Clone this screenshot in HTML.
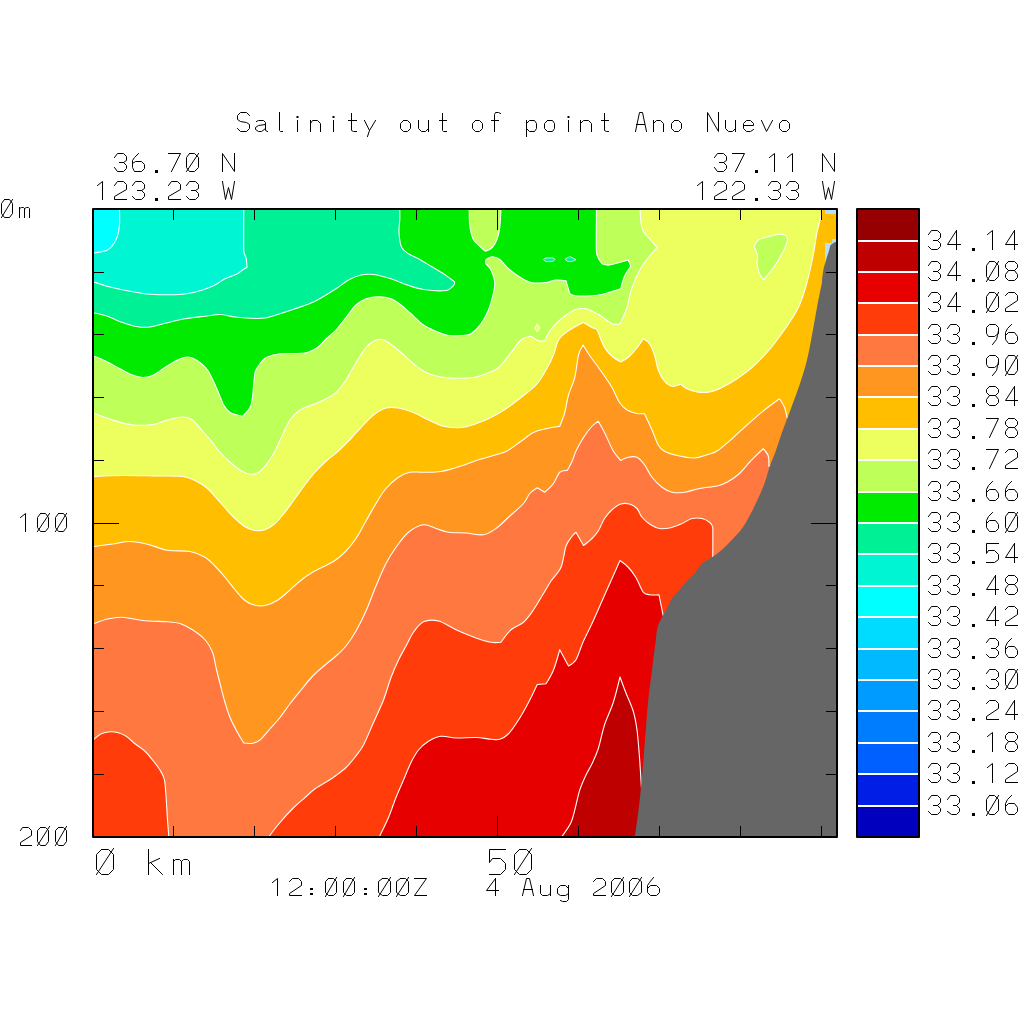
<!DOCTYPE html>
<html><head><meta charset="utf-8"><title>Salinity out of point Ano Nuevo</title>
<style>html,body{margin:0;padding:0;background:#fff;font-family:"Liberation Sans",sans-serif}svg{display:block}</style></head>
<body><svg width="1024" height="1024" viewBox="0 0 1024 1024">
<rect width="1024" height="1024" fill="#fff"/>
<defs><clipPath id="pc"><rect x="93" y="209" width="744" height="628"/></clipPath></defs><g clip-path="url(#pc)">
<rect x="92" y="208" width="746" height="630" fill="#00ffff"/>
<path d="M119.50 208.00 C119.50 208.00 119.50 208.60 119.50 209.00 C119.50 209.40 119.83 220.54 119.50 225.00 C119.17 229.46 118.46 232.88 117.50 236.00 C116.54 239.12 115.42 241.42 113.75 243.75 C112.08 246.08 110.70 248.50 107.50 250.00 C104.30 251.50 94.79 252.85 94.00 253.00 C93.21 253.15 92.00 253.00 92.00 253.00 L92.00 838.00 L838.00 838.00 L838.00 208.00 L119.50 208.00Z" fill="#00f5d2" stroke="#fff" stroke-width="1.1" stroke-linejoin="round"/>
<path d="M243.75 208.00 C243.75 208.00 243.75 208.60 243.75 209.00 C243.75 209.40 243.59 247.75 243.75 251.00 C243.91 254.25 245.71 256.00 246.25 258.75 C246.79 261.50 247.00 267.50 247.00 267.50 C247.00 267.50 244.08 268.96 242.50 270.00 C240.92 271.04 239.74 272.63 237.50 273.75 C235.26 274.87 228.75 276.88 225.00 278.75 C221.25 280.62 218.75 283.12 215.00 285.00 C211.25 286.88 207.68 288.53 202.50 290.00 C197.32 291.47 190.65 293.59 182.50 294.25 C174.35 294.91 158.08 294.71 150.00 294.25 C141.92 293.79 136.67 292.46 130.00 291.25 C123.33 290.04 116.00 288.54 110.00 287.00 C104.00 285.46 94.77 282.21 94.00 282.00 C93.23 281.79 92.00 282.00 92.00 282.00 L92.00 838.00 L838.00 838.00 L838.00 208.00 L243.75 208.00Z" fill="#00f096" stroke="#fff" stroke-width="1.1" stroke-linejoin="round"/>
<path d="M92.00 313.00 C92.00 313.00 93.22 312.84 94.00 313.00 C94.78 313.16 102.75 314.67 107.50 316.25 C112.25 317.83 117.50 320.75 122.50 322.50 C127.50 324.25 132.92 326.00 137.50 326.75 C142.08 327.50 145.42 327.58 150.00 327.00 C154.58 326.42 159.17 324.62 165.00 323.25 C170.83 321.88 178.33 319.92 185.00 318.75 C191.67 317.58 199.17 316.96 205.00 316.25 C210.83 315.54 215.00 314.38 220.00 314.50 C225.00 314.62 230.00 316.38 235.00 317.00 C240.00 317.62 245.00 318.08 250.00 318.25 C255.00 318.42 260.00 318.75 265.00 318.00 C270.00 317.25 275.00 315.29 280.00 313.75 C285.00 312.21 289.17 310.83 295.00 308.75 C300.83 306.67 308.17 304.58 315.00 301.25 C321.83 297.92 330.85 292.02 336.00 288.75 C341.15 285.48 344.33 282.29 348.50 280.00 C352.67 277.71 356.83 275.92 361.00 275.00 C365.17 274.08 368.53 273.88 373.50 274.50 C378.47 275.12 385.58 277.08 391.00 278.75 C396.42 280.42 400.58 282.71 406.00 284.50 C411.42 286.29 416.83 288.50 423.50 289.50 C430.17 290.50 442.43 290.98 446.00 290.50 C449.57 290.02 452.43 286.54 453.50 285.50 C454.57 284.46 454.75 282.00 454.75 282.00 C454.75 282.00 447.46 276.38 443.50 273.75 C439.54 271.12 435.17 268.75 431.00 266.25 C426.83 263.75 422.25 260.83 418.50 258.75 C414.75 256.67 411.33 255.71 408.50 253.75 C405.67 251.79 403.08 250.54 401.50 247.00 C399.92 243.46 399.29 237.00 399.00 232.50 C398.71 228.00 399.62 223.92 399.75 220.00 C399.88 216.08 399.75 209.40 399.75 209.00 C399.75 208.60 399.75 208.00 399.75 208.00 L838.00 208.00 L838.00 838.00 L92.00 838.00 L92.00 313.00Z" fill="#00eb00" stroke="#fff" stroke-width="1.1" stroke-linejoin="round"/>
<path d="M543.50 259.60 C543.50 259.60 544.83 258.20 546.00 258.00 C547.17 257.80 552.04 257.85 553.00 258.00 C553.96 258.15 555.00 259.40 555.00 259.40 C555.00 259.40 553.75 261.12 552.50 261.40 C551.25 261.68 547.21 261.64 546.00 261.40 C544.79 261.16 543.50 259.60 543.50 259.60Z" fill="#00f096" stroke="#fff" stroke-width="0.8" stroke-linejoin="round"/>
<path d="M565.00 259.20 C565.00 259.20 568.48 257.03 569.50 256.80 C570.52 256.57 571.04 257.18 572.00 257.60 C572.96 258.02 576.00 259.60 576.00 259.60 C576.00 259.60 573.33 261.10 572.00 261.40 C570.67 261.70 569.17 261.77 568.00 261.40 C566.83 261.03 565.00 259.20 565.00 259.20Z" fill="#00f096" stroke="#fff" stroke-width="0.8" stroke-linejoin="round"/>
<path d="M92.00 356.25 C92.00 356.25 93.24 355.99 94.00 356.25 C94.76 356.51 100.72 358.69 105.00 360.75 C109.28 362.81 115.42 366.38 120.00 368.75 C124.58 371.12 128.75 373.54 132.50 375.00 C136.25 376.46 139.17 377.42 142.50 377.50 C145.83 377.58 148.77 377.16 152.50 375.50 C156.23 373.84 160.83 370.08 165.00 367.50 C169.17 364.92 173.75 361.75 177.50 360.00 C181.25 358.25 184.38 357.00 187.50 357.00 C190.62 357.00 193.15 357.98 196.25 360.00 C199.35 362.02 204.17 365.42 207.50 370.00 C210.83 374.58 213.54 381.67 216.25 387.50 C218.96 393.33 221.87 401.58 223.75 405.00 C225.63 408.42 226.88 410.62 230.00 412.50 C233.12 414.38 242.50 416.25 242.50 416.25 C242.50 416.25 248.33 410.62 250.00 407.50 C251.67 404.38 251.92 401.58 252.50 397.50 C253.08 393.42 254.13 376.44 255.00 372.50 C255.87 368.56 258.12 366.25 260.00 363.75 C261.88 361.25 263.09 359.08 266.25 357.50 C269.41 355.92 274.34 354.41 280.00 353.75 C285.66 353.09 299.61 353.90 305.00 353.00 C310.39 352.10 313.96 349.88 317.50 347.50 C321.04 345.12 323.17 341.67 326.25 338.75 C329.33 335.83 332.71 333.54 336.00 330.00 C339.29 326.46 342.67 321.67 346.00 317.50 C349.33 313.33 352.67 308.12 356.00 305.00 C359.33 301.88 362.25 300.12 366.00 298.75 C369.75 297.38 374.33 296.75 378.50 296.75 C382.67 296.75 387.25 297.38 391.00 298.75 C394.75 300.12 397.67 302.50 401.00 305.00 C404.33 307.50 407.25 310.42 411.00 313.75 C414.75 317.08 419.33 322.08 423.50 325.00 C427.67 327.92 431.83 329.50 436.00 331.25 C440.17 333.00 443.92 334.79 448.50 335.50 C453.08 336.21 460.43 335.74 463.50 335.50 C466.57 335.26 468.44 335.47 471.00 333.75 C473.56 332.03 478.08 327.71 481.00 323.75 C483.92 319.79 486.50 314.79 488.50 310.00 C490.50 305.21 491.96 299.58 493.00 295.00 C494.04 290.42 495.08 286.67 494.75 282.50 C494.42 278.33 492.35 272.90 491.00 270.00 C489.65 267.10 486.73 265.28 486.00 263.75 C485.27 262.22 486.00 259.50 486.00 259.50 C486.00 259.50 489.96 256.75 492.25 256.75 C494.54 256.75 497.18 257.60 499.75 259.50 C502.32 261.40 505.38 265.96 508.50 268.75 C511.62 271.54 514.75 273.96 518.50 276.25 C522.25 278.54 526.42 281.46 531.00 282.50 C535.58 283.54 541.90 282.91 546.00 282.50 C550.10 282.09 552.67 280.29 556.00 280.00 C559.33 279.71 566.00 280.75 566.00 280.75 L569.75 293.75 C569.75 293.75 572.60 295.56 574.75 295.75 C576.90 295.94 587.97 295.93 592.00 295.75 C596.03 295.57 598.08 295.45 602.00 294.50 C605.92 293.55 620.75 288.75 620.75 288.75 C620.75 288.75 622.83 280.00 624.50 276.25 C626.17 272.50 630.75 266.25 630.75 266.25 L628.25 260.00 C628.25 260.00 612.51 264.57 609.50 265.00 C606.49 265.43 602.00 263.75 602.00 263.75 C602.00 263.75 597.00 257.48 596.50 252.50 C596.00 247.52 596.50 209.40 596.50 209.00 C596.50 208.60 596.50 208.00 596.50 208.00 L838.00 208.00 L838.00 838.00 L92.00 838.00 L92.00 356.25Z" fill="#beff5a" stroke="#fff" stroke-width="1.1" stroke-linejoin="round"/>
<path d="M469.25 208.00 C469.25 208.00 469.24 208.60 469.25 209.00 C469.26 209.40 469.12 220.04 469.75 225.00 C470.38 229.96 471.33 235.21 473.00 238.75 C474.67 242.29 477.67 244.17 479.75 246.25 C481.83 248.33 485.50 251.25 485.50 251.25 C485.50 251.25 490.29 249.58 492.25 247.50 C494.21 245.42 496.00 242.08 497.25 238.75 C498.50 235.42 499.17 232.07 499.75 227.50 C500.33 222.93 500.97 209.40 501.00 209.00 C501.03 208.60 501.00 208.00 501.00 208.00 L485.00 207.00 L469.25 208.00Z" fill="#beff5a" stroke="#fff" stroke-width="1.1" stroke-linejoin="round"/>
<path d="M92.00 413.25 C92.00 413.25 93.24 413.00 94.00 413.25 C94.76 413.50 106.08 418.04 112.50 420.00 C118.92 421.96 125.83 424.25 132.50 425.00 C139.17 425.75 146.67 425.33 152.50 424.50 C158.33 423.67 162.50 421.25 167.50 420.00 C172.50 418.75 178.33 417.00 182.50 417.00 C186.67 417.00 189.17 417.62 192.50 420.00 C195.83 422.38 199.17 427.50 202.50 431.25 C205.83 435.00 209.82 439.24 212.50 442.50 C215.18 445.76 215.95 447.84 218.75 451.00 C221.55 454.16 226.04 458.83 230.00 462.25 C233.96 465.67 239.31 469.70 242.50 471.50 C245.69 473.30 248.54 474.12 251.25 474.25 C253.96 474.38 256.25 473.83 258.75 472.25 C261.25 470.67 264.17 467.25 266.25 464.75 C268.33 462.25 269.79 459.54 271.25 457.25 C272.71 454.96 273.68 453.60 275.00 451.00 C276.32 448.40 280.00 440.17 282.50 435.00 C285.00 429.83 287.08 424.17 290.00 420.00 C292.92 415.83 295.83 412.71 300.00 410.00 C304.17 407.29 310.62 405.62 315.00 403.75 C319.38 401.88 322.75 400.62 326.25 398.75 C329.75 396.88 332.71 395.62 336.00 392.50 C339.29 389.38 342.67 385.00 346.00 380.00 C349.33 375.00 352.67 367.92 356.00 362.50 C359.33 357.08 363.52 350.51 366.00 347.50 C368.48 344.49 371.00 342.62 373.50 341.25 C376.00 339.88 378.50 339.04 381.00 339.25 C383.50 339.46 385.77 340.69 388.50 342.50 C391.23 344.31 396.83 348.96 401.00 352.50 C405.17 356.04 409.33 360.42 413.50 363.75 C417.67 367.08 421.42 370.29 426.00 372.50 C430.58 374.71 436.00 376.04 441.00 377.00 C446.00 377.96 450.58 378.17 456.00 378.25 C461.42 378.33 468.50 378.25 473.50 377.50 C478.50 376.75 481.83 375.42 486.00 373.75 C490.17 372.08 494.33 371.04 498.50 367.50 C502.67 363.96 507.25 357.08 511.00 352.50 C514.75 347.92 517.68 342.69 521.00 340.00 C524.32 337.31 531.00 336.25 531.00 336.25 C531.00 336.25 536.21 340.00 538.50 340.75 C540.79 341.50 544.75 340.75 544.75 340.75 C544.75 340.75 547.88 334.08 549.75 331.25 C551.62 328.42 553.29 326.46 556.00 323.75 C558.71 321.04 562.67 317.38 566.00 315.00 C569.33 312.62 572.67 310.54 576.00 309.50 C579.33 308.46 583.42 308.47 586.00 308.75 C588.58 309.03 589.75 310.21 592.00 311.25 C594.25 312.29 596.66 313.22 599.50 315.00 C602.34 316.78 609.06 322.49 612.00 323.75 C614.94 325.01 620.00 323.75 620.00 323.75 C620.00 323.75 625.00 313.54 627.00 307.50 C629.00 301.46 629.50 294.38 632.00 287.50 C634.50 280.62 637.83 272.92 642.00 266.25 C646.17 259.58 657.00 247.50 657.00 247.50 C657.00 247.50 653.04 242.71 650.75 240.00 C648.46 237.29 644.92 234.58 643.25 231.25 C641.58 227.92 641.25 223.71 640.75 220.00 C640.25 216.29 640.27 209.40 640.25 209.00 C640.23 208.60 640.25 208.00 640.25 208.00 L838.00 208.00 L838.00 838.00 L92.00 838.00 L92.00 413.25Z" fill="#ecff5e" stroke="#fff" stroke-width="1.1" stroke-linejoin="round"/>
<path d="M537.25 323.75 L539.75 328.00 L537.25 332.00 L534.75 328.00 L537.25 323.75Z" fill="#ecff5e" stroke="#fff" stroke-width="0.8" stroke-linejoin="round"/>
<path d="M754.00 247.00 C754.00 247.00 756.08 241.67 758.25 240.00 C760.42 238.33 763.46 237.96 767.00 237.00 C770.54 236.04 776.96 234.45 779.50 234.25 C782.04 234.05 785.75 235.50 785.75 235.50 C785.75 235.50 787.80 238.09 787.50 240.00 C787.20 241.91 785.38 246.94 783.25 251.25 C781.12 255.56 777.83 261.46 774.50 266.25 C771.17 271.04 763.25 280.00 763.25 280.00 C763.25 280.00 760.04 275.42 759.00 272.50 C757.96 269.58 757.25 265.42 757.00 262.50 C756.75 259.58 758.00 257.58 757.50 255.00 C757.00 252.42 754.00 247.00 754.00 247.00Z" fill="#beff5a" stroke="#fff" stroke-width="1.1" stroke-linejoin="round"/>
<path d="M92.00 476.50 C92.00 476.50 93.20 476.53 94.00 476.50 C94.80 476.47 112.33 475.58 122.50 475.50 C132.67 475.42 145.00 475.83 155.00 476.00 C165.00 476.17 177.28 475.91 182.50 476.50 C187.72 477.09 190.83 478.50 195.00 480.50 C199.17 482.50 203.33 484.88 207.50 488.50 C211.67 492.12 215.83 497.67 220.00 502.25 C224.17 506.83 228.33 511.92 232.50 516.00 C236.67 520.08 241.41 524.44 245.00 526.75 C248.59 529.06 251.67 530.00 255.00 530.50 C258.33 531.00 261.67 530.92 265.00 529.75 C268.33 528.58 271.67 526.42 275.00 523.50 C278.33 520.58 281.67 516.42 285.00 512.25 C288.33 508.08 291.67 503.08 295.00 498.50 C298.33 493.92 301.67 489.12 305.00 484.75 C308.33 480.38 311.46 476.21 315.00 472.25 C318.54 468.29 322.75 464.18 326.25 461.00 C329.75 457.82 333.91 454.97 336.00 453.20 C338.09 451.43 339.04 450.42 341.00 448.50 C342.96 446.58 347.67 442.00 351.00 438.50 C354.33 435.00 357.25 431.42 361.00 427.50 C364.75 423.58 369.33 418.25 373.50 415.00 C377.67 411.75 381.83 409.17 386.00 408.00 C390.17 406.83 393.92 407.25 398.50 408.00 C403.08 408.75 408.50 410.50 413.50 412.50 C418.50 414.50 423.50 417.71 428.50 420.00 C433.50 422.29 438.08 425.00 443.50 426.25 C448.92 427.50 455.58 427.92 461.00 427.50 C466.42 427.08 471.00 425.42 476.00 423.75 C481.00 422.08 486.00 420.00 491.00 417.50 C496.00 415.00 501.00 412.08 506.00 408.75 C511.00 405.42 516.00 401.46 521.00 397.50 C526.00 393.54 531.83 389.58 536.00 385.00 C540.17 380.42 543.08 375.00 546.00 370.00 C548.92 365.00 551.42 360.00 553.50 355.00 C555.58 350.00 556.44 343.71 558.50 340.00 C560.56 336.29 563.08 334.79 566.00 332.50 C568.92 330.21 573.09 327.91 576.00 326.25 C578.91 324.59 583.50 322.50 583.50 322.50 C583.50 322.50 590.05 326.41 592.00 327.50 C593.95 328.59 595.81 328.10 597.00 330.00 C598.19 331.90 602.21 343.50 604.50 347.50 C606.79 351.50 609.29 353.83 612.00 356.25 C614.71 358.67 620.75 362.00 620.75 362.00 C620.75 362.00 626.58 358.88 629.50 356.25 C632.42 353.62 636.02 349.09 638.25 346.25 C640.48 343.41 643.25 338.75 643.25 338.75 C643.25 338.75 647.68 341.12 649.50 343.75 C651.32 346.38 653.04 350.62 654.50 355.00 C655.96 359.38 656.58 365.62 658.25 370.00 C659.92 374.38 662.21 378.54 664.50 381.25 C666.79 383.96 669.29 385.75 672.00 386.25 C674.71 386.75 680.75 384.25 680.75 384.25 C680.75 384.25 684.29 387.46 687.00 388.75 C689.71 390.04 693.25 391.46 697.00 392.00 C700.75 392.54 705.33 392.75 709.50 392.00 C713.67 391.25 717.42 389.71 722.00 387.50 C726.58 385.29 732.00 382.08 737.00 378.75 C742.00 375.42 747.00 371.88 752.00 367.50 C757.00 363.12 762.83 357.08 767.00 352.50 C771.17 347.92 773.25 345.00 777.00 340.00 C780.75 335.00 785.75 328.33 789.50 322.50 C793.25 316.67 796.58 311.67 799.50 305.00 C802.42 298.33 804.71 290.83 807.00 282.50 C809.29 274.17 811.58 263.33 813.25 255.00 C814.92 246.67 815.79 238.56 817.00 232.50 C818.21 226.44 820.03 220.86 820.75 217.50 C821.47 214.14 821.95 209.40 822.00 209.00 C822.05 208.60 822.00 208.00 822.00 208.00 L838.00 208.00 L838.00 838.00 L92.00 838.00 L92.00 476.50Z" fill="#ffbe00" stroke="#fff" stroke-width="1.1" stroke-linejoin="round"/>
<path d="M92.00 546.50 C92.00 546.50 93.21 546.60 94.00 546.50 C94.79 546.40 106.50 544.83 112.50 544.00 C118.50 543.17 124.17 541.46 130.00 541.50 C135.83 541.54 141.25 542.79 147.50 544.25 C153.75 545.71 160.42 549.04 167.50 550.25 C174.58 551.46 183.75 550.33 190.00 551.50 C196.25 552.67 200.83 554.83 205.00 557.25 C209.17 559.67 211.67 562.67 215.00 566.00 C218.33 569.33 221.67 573.29 225.00 577.25 C228.33 581.21 231.67 585.88 235.00 589.75 C238.33 593.62 241.67 597.92 245.00 600.50 C248.33 603.08 251.46 604.46 255.00 605.25 C258.54 606.04 262.50 606.08 266.25 605.25 C270.00 604.42 273.96 602.42 277.50 600.25 C281.04 598.08 283.75 595.46 287.50 592.25 C291.25 589.04 295.83 584.33 300.00 581.00 C304.17 577.67 307.92 574.96 312.50 572.25 C317.08 569.54 324.02 566.60 327.50 564.75 C330.98 562.90 332.92 562.04 336.00 559.75 C339.08 557.46 342.67 554.54 346.00 551.00 C349.33 547.46 352.67 543.50 356.00 538.50 C359.33 533.50 362.67 526.83 366.00 521.00 C369.33 515.17 372.67 508.92 376.00 503.50 C379.33 498.08 382.25 492.88 386.00 488.50 C389.75 484.12 394.54 479.96 398.50 477.25 C402.46 474.54 405.58 473.08 409.75 472.25 C413.92 471.42 418.29 472.38 423.50 472.25 C428.71 472.12 434.75 472.54 441.00 471.50 C447.25 470.46 454.75 467.96 461.00 466.00 C467.25 464.04 472.67 461.62 478.50 459.75 C484.33 457.88 491.56 456.11 496.00 454.75 C500.44 453.39 502.91 453.21 507.00 451.00 C511.09 448.79 516.58 444.33 521.00 441.25 C525.42 438.17 529.33 434.58 533.50 432.50 C537.67 430.42 541.62 429.79 546.00 428.75 C550.38 427.71 559.75 426.25 559.75 426.25 C559.75 426.25 563.29 417.71 564.75 412.50 C566.21 407.29 566.83 400.83 568.50 395.00 C570.17 389.17 573.08 384.17 574.75 377.50 C576.42 370.83 577.42 359.25 578.50 355.00 C579.58 350.75 583.00 345.00 583.00 345.00 C583.00 345.00 587.16 351.71 588.50 353.75 C589.84 355.79 590.57 356.77 592.00 358.75 C593.43 360.73 598.67 367.71 602.00 372.50 C605.33 377.29 609.08 382.50 612.00 387.50 C614.92 392.50 617.15 398.97 619.50 402.50 C621.85 406.03 624.29 408.21 627.00 410.00 C629.71 411.79 632.83 412.62 635.75 413.25 C638.67 413.88 644.50 413.75 644.50 413.75 C644.50 413.75 649.71 424.79 652.00 430.00 C654.29 435.21 656.60 442.11 658.25 445.00 C659.90 447.89 661.10 449.38 664.00 451.00 C666.90 452.62 671.92 454.33 677.00 455.50 C682.08 456.67 689.50 458.12 694.50 458.00 C699.50 457.88 703.25 455.92 707.00 454.75 C710.75 453.58 713.40 453.30 717.00 451.00 C720.60 448.70 727.00 443.08 732.00 438.75 C737.00 434.42 741.58 429.79 747.00 425.00 C752.42 420.21 759.08 414.38 764.50 410.00 C769.92 405.62 779.50 398.75 779.50 398.75 C779.50 398.75 783.25 404.38 784.50 407.50 C785.75 410.62 787.00 417.50 787.00 417.50 L838.00 417.50 L838.00 838.00 L92.00 838.00 L92.00 546.50Z" fill="#ff9620" stroke="#fff" stroke-width="1.1" stroke-linejoin="round"/>
<path d="M92.00 623.50 C92.00 623.50 93.23 623.72 94.00 623.50 C94.77 623.28 102.75 620.04 107.50 619.00 C112.25 617.96 116.67 617.00 122.50 617.25 C128.33 617.50 135.00 619.75 142.50 620.50 C150.00 621.25 162.47 621.35 167.50 621.75 C172.53 622.15 175.83 622.17 180.00 623.50 C184.17 624.83 188.33 627.04 192.50 629.75 C196.67 632.46 201.67 636.00 205.00 639.75 C208.33 643.50 210.62 647.46 212.50 652.25 C214.38 657.04 215.00 663.29 216.25 668.50 C217.50 673.71 218.54 677.83 220.00 683.50 C221.46 689.17 223.33 696.83 225.00 702.50 C226.67 708.17 227.92 712.50 230.00 717.50 C232.08 722.50 235.21 728.25 237.50 732.50 C239.79 736.75 243.75 743.00 243.75 743.00 C243.75 743.00 249.79 743.75 252.50 743.25 C255.21 742.75 257.48 742.09 260.00 740.00 C262.52 737.91 266.67 732.50 270.00 728.75 C273.33 725.00 276.67 721.67 280.00 717.50 C283.33 713.33 286.67 708.12 290.00 703.75 C293.33 699.38 296.25 695.83 300.00 691.25 C303.75 686.67 308.33 680.62 312.50 676.25 C316.67 671.88 321.08 668.38 325.00 665.00 C328.92 661.62 332.50 659.17 336.00 656.00 C339.50 652.83 342.67 650.17 346.00 646.00 C349.33 641.83 352.67 636.83 356.00 631.00 C359.33 625.17 362.67 618.50 366.00 611.00 C369.33 603.50 372.67 593.92 376.00 586.00 C379.33 578.08 382.67 569.96 386.00 563.50 C389.33 557.04 392.25 552.46 396.00 547.25 C399.75 542.04 403.92 536.00 408.50 532.25 C413.08 528.50 418.92 525.38 423.50 524.75 C428.08 524.12 431.83 527.25 436.00 528.50 C440.17 529.75 443.50 531.50 448.50 532.25 C453.50 533.00 460.17 532.58 466.00 533.00 C471.83 533.42 478.50 535.50 483.50 534.75 C488.50 534.00 491.83 531.42 496.00 528.50 C500.17 525.58 503.92 521.42 508.50 517.25 C513.08 513.08 520.35 507.02 523.50 503.50 C526.65 499.98 527.46 496.12 529.75 493.50 C532.04 490.88 537.25 487.75 537.25 487.75 L544.75 492.25 C544.75 492.25 551.00 486.83 553.50 483.50 C556.00 480.17 557.51 474.37 559.75 472.25 C561.99 470.13 567.25 470.50 567.25 470.50 C567.25 470.50 570.79 464.25 572.25 461.00 C573.71 457.75 574.16 454.85 576.00 451.00 C577.84 447.15 580.83 441.62 583.50 437.50 C586.17 433.38 589.85 428.62 592.00 426.25 C594.15 423.88 598.25 421.25 598.25 421.25 C598.25 421.25 602.18 427.90 604.50 432.50 C606.82 437.10 610.82 446.81 613.25 451.00 C615.68 455.19 620.75 460.50 620.75 460.50 C620.75 460.50 625.54 457.79 628.25 457.25 C630.96 456.71 634.29 456.00 637.00 457.25 C639.71 458.50 642.00 461.42 644.50 464.75 C647.00 468.08 649.08 473.50 652.00 477.25 C654.92 481.00 658.67 484.75 662.00 487.25 C665.33 489.75 668.25 491.42 672.00 492.25 C675.75 493.08 679.92 492.88 684.50 492.25 C689.08 491.62 694.08 489.54 699.50 488.50 C704.92 487.46 712.83 486.95 717.00 486.00 C721.17 485.05 723.27 484.32 727.00 482.25 C730.73 480.18 735.75 476.83 739.50 473.50 C743.25 470.17 746.17 465.79 749.50 462.25 C752.83 458.71 758.04 453.69 759.50 452.25 C760.96 450.81 763.25 448.75 763.25 448.75 C763.25 448.75 767.33 453.12 768.25 456.00 C769.17 458.88 768.75 466.00 768.75 466.00 L838.00 466.00 L838.00 838.00 L92.00 838.00 L92.00 623.50Z" fill="#ff7840" stroke="#fff" stroke-width="1.1" stroke-linejoin="round"/>
<path d="M92.00 739.25 C92.00 739.25 93.31 739.66 94.00 739.25 C94.69 738.84 98.58 735.00 101.25 733.75 C103.92 732.50 107.29 731.96 110.00 731.75 C112.71 731.54 114.79 731.75 117.50 732.50 C120.21 733.25 123.33 734.38 126.25 736.25 C129.17 738.12 131.88 741.25 135.00 743.75 C138.12 746.25 142.08 748.54 145.00 751.25 C147.92 753.96 150.00 756.88 152.50 760.00 C155.00 763.12 158.00 766.67 160.00 770.00 C162.00 773.33 163.61 775.71 164.50 780.00 C165.39 784.29 165.75 793.33 166.25 800.00 C166.75 806.67 167.08 814.00 167.50 820.00 C167.92 826.00 168.69 835.20 168.75 836.00 C168.81 836.80 168.75 838.00 168.75 838.00 L92.00 838.00 L92.00 739.25Z" fill="#ff3c0a" stroke="#fff" stroke-width="1.1" stroke-linejoin="round"/>
<path d="M269.50 838.00 C269.50 838.00 269.05 836.66 269.50 836.00 C269.95 835.34 276.17 827.04 280.00 822.50 C283.83 817.96 288.33 812.92 292.50 808.75 C296.67 804.58 301.25 800.83 305.00 797.50 C308.75 794.17 311.25 791.46 315.00 788.75 C318.75 786.04 324.03 783.44 327.50 781.25 C330.97 779.06 332.92 777.79 336.00 775.50 C339.08 773.21 342.88 770.50 346.00 767.50 C349.12 764.50 351.83 761.25 354.75 757.50 C357.67 753.75 360.62 750.38 363.50 745.00 C366.38 739.62 370.17 730.00 373.50 722.50 C376.83 715.00 380.58 707.50 383.50 700.00 C386.42 692.50 388.50 684.17 391.00 677.50 C393.50 670.83 396.00 665.25 398.50 660.00 C401.00 654.75 403.50 650.62 406.00 646.00 C408.50 641.38 410.58 636.29 413.50 632.25 C416.42 628.21 419.33 623.62 423.50 621.75 C427.67 619.88 433.08 619.67 438.50 621.00 C443.92 622.33 449.75 626.92 456.00 629.75 C462.25 632.58 470.17 635.92 476.00 638.00 C481.83 640.08 487.06 641.58 491.00 642.25 C494.94 642.92 501.00 642.25 501.00 642.25 C501.00 642.25 507.25 633.08 511.00 629.75 C514.75 626.42 519.75 625.58 523.50 622.25 C527.25 618.92 530.17 614.54 533.50 609.75 C536.83 604.96 540.58 598.29 543.50 593.50 C546.42 588.71 548.08 585.38 551.00 581.00 C553.92 576.62 558.50 573.08 561.00 567.25 C563.50 561.42 564.40 550.44 566.00 546.00 C567.60 541.56 571.00 537.72 572.25 536.00 C573.50 534.28 576.00 532.25 576.00 532.25 L583.50 545.50 C583.50 545.50 589.54 540.92 592.00 538.50 C594.46 536.08 596.18 534.31 598.25 531.00 C600.32 527.69 602.21 522.04 604.50 518.50 C606.79 514.96 609.29 512.17 612.00 509.75 C614.71 507.33 617.83 504.96 620.75 504.00 C623.67 503.04 626.79 503.25 629.50 504.00 C632.21 504.75 634.92 506.29 637.00 508.50 C639.08 510.71 639.71 514.54 642.00 517.25 C644.29 519.96 647.83 522.88 650.75 524.75 C653.67 526.62 656.38 527.96 659.50 528.50 C662.62 529.04 665.75 528.83 669.50 528.00 C673.25 527.17 678.25 525.08 682.00 523.50 C685.75 521.92 688.67 519.33 692.00 518.50 C695.33 517.67 699.08 517.88 702.00 518.50 C704.92 519.12 707.71 520.79 709.50 522.25 C711.29 523.71 712.53 524.87 712.75 527.25 C712.97 529.63 712.75 557.25 712.75 557.25 L838.00 557.25 L838.00 838.00 L269.50 838.00Z" fill="#ff3c0a" stroke="#fff" stroke-width="1.1" stroke-linejoin="round"/>
<path d="M379.75 838.00 C379.75 838.00 379.44 836.74 379.75 836.00 C380.06 835.26 385.79 823.92 388.50 817.50 C391.21 811.08 393.50 803.75 396.00 797.50 C398.50 791.25 401.00 785.83 403.50 780.00 C406.00 774.17 408.50 767.50 411.00 762.50 C413.50 757.50 415.58 753.54 418.50 750.00 C421.42 746.46 424.75 743.54 428.50 741.25 C432.25 738.96 436.42 736.79 441.00 736.25 C445.58 735.71 450.17 737.79 456.00 738.00 C461.83 738.21 470.17 737.29 476.00 737.50 C481.83 737.71 487.51 738.99 491.00 739.25 C494.49 739.51 496.83 740.17 499.75 739.25 C502.67 738.33 505.62 736.71 508.50 733.75 C511.38 730.79 515.17 725.21 518.50 720.00 C521.83 714.79 525.38 708.42 528.50 702.50 C531.62 696.58 537.25 684.50 537.25 684.50 L546.00 683.75 C546.00 683.75 551.21 675.67 553.50 670.00 C555.79 664.33 559.75 649.75 559.75 649.75 L568.50 666.00 C568.50 666.00 573.99 663.10 576.00 659.75 C578.01 656.40 580.83 647.04 583.50 641.00 C586.17 634.96 588.92 630.17 592.00 623.50 C595.08 616.83 598.67 608.50 602.00 601.00 C605.33 593.50 609.00 585.25 612.00 578.50 C615.00 571.75 620.00 560.50 620.00 560.50 C620.00 560.50 625.62 564.46 628.25 567.25 C630.88 570.04 633.25 573.08 635.75 577.25 C638.25 581.42 641.59 590.13 643.25 592.25 C644.91 594.37 646.88 594.33 649.50 594.75 C652.12 595.17 659.00 594.75 659.00 594.75 C659.00 594.75 660.05 600.00 660.75 603.50 C661.45 607.00 663.25 616.00 663.25 616.00 L838.00 616.00 L838.00 838.00 L379.75 838.00Z" fill="#e60000" stroke="#fff" stroke-width="1.1" stroke-linejoin="round"/>
<path d="M562.25 838.00 C562.25 838.00 561.86 836.70 562.25 836.00 C562.64 835.30 568.71 827.67 571.00 822.50 C573.29 817.33 574.54 810.42 576.00 805.00 C577.46 799.58 578.08 795.00 579.75 790.00 C581.42 785.00 583.96 779.38 586.00 775.00 C588.04 770.62 589.96 768.12 592.00 763.75 C594.04 759.38 596.25 754.94 598.25 748.75 C600.25 742.56 602.00 732.71 604.50 725.00 C607.00 717.29 610.67 710.50 613.25 702.50 C615.83 694.50 620.00 677.00 620.00 677.00 C620.00 677.00 623.54 686.79 625.75 692.50 C627.96 698.21 631.38 705.00 633.25 711.25 C635.12 717.50 635.98 722.42 637.00 730.00 C638.02 737.58 638.75 747.71 639.50 757.50 C640.25 767.29 641.50 788.75 641.50 788.75 L838.00 788.75 L838.00 838.00 L562.25 838.00Z" fill="#be0000" stroke="#fff" stroke-width="1.1" stroke-linejoin="round"/>
<rect x="825" y="208" width="13" height="6" fill="#b8deff"/>
<path d="M825.00 243.00 L832.20 243.00 L832.20 239.00 L838.00 239.00 C838.00 239.00 838.75 241.58 838.00 243.00 C837.25 244.42 825.20 263.30 825.20 263.30 L825.00 243.00Z" fill="#b8deff"/>
<path d="M838.00 241.80 C838.00 241.80 836.75 241.60 836.00 241.80 C835.25 242.00 834.40 242.42 833.50 243.00 C832.60 243.58 831.34 244.02 830.60 245.30 C829.86 246.58 829.65 248.72 829.00 250.80 C828.35 252.88 827.33 255.72 826.70 257.80 C826.07 259.88 825.72 261.48 825.20 263.30 C824.68 265.12 824.03 266.52 823.60 268.75 C823.17 270.98 822.12 279.01 822.00 280.00 C821.88 280.99 822.18 281.52 822.00 282.50 C821.82 283.48 818.67 298.75 817.00 307.50 C815.33 316.25 813.67 326.25 812.00 335.00 C810.33 343.75 809.08 351.67 807.00 360.00 C804.92 368.33 802.42 376.25 799.50 385.00 C796.58 393.75 792.42 404.58 789.50 412.50 C786.58 420.42 784.29 426.08 782.00 432.50 C779.71 438.92 777.83 445.21 775.75 451.00 C773.67 456.79 771.38 461.83 769.50 467.25 C767.62 472.67 766.58 477.88 764.50 483.50 C762.42 489.12 759.50 495.58 757.00 501.00 C754.50 506.42 752.00 511.42 749.50 516.00 C747.00 520.58 744.92 524.54 742.00 528.50 C739.08 532.46 735.33 536.21 732.00 539.75 C728.67 543.29 725.33 546.83 722.00 549.75 C718.67 552.67 715.33 554.96 712.00 557.25 C708.67 559.54 704.92 560.79 702.00 563.50 C699.08 566.21 697.00 570.58 694.50 573.50 C692.00 576.42 689.50 578.29 687.00 581.00 C684.50 583.71 682.00 586.83 679.50 589.75 C677.00 592.67 674.08 595.38 672.00 598.50 C669.92 601.62 668.67 605.38 667.00 608.50 C665.33 611.62 663.58 614.12 662.00 617.25 C660.42 620.38 658.54 623.29 657.50 627.25 C656.46 631.21 656.23 637.40 655.75 641.00 C655.27 644.60 654.97 646.40 654.50 650.00 C654.03 653.60 653.00 662.00 652.00 670.00 C651.00 678.00 649.29 690.00 648.25 700.00 C647.21 710.00 646.58 719.58 645.75 730.00 C644.92 740.42 644.08 752.50 643.25 762.50 C642.42 772.50 641.58 781.67 640.75 790.00 C639.92 798.33 639.21 804.83 638.25 812.50 C637.29 820.17 635.05 835.60 635.00 836.00 C634.95 836.40 635.00 837.00 635.00 837.00 L635.00 838.00 L838.00 838.00 L838.00 241.80Z" fill="#666666"/>
</g>
<line x1="173.50" y1="209.00" x2="173.50" y2="220.00" stroke="#000" stroke-width="1" shape-rendering="crispEdges"/>
<line x1="173.50" y1="837.00" x2="173.50" y2="826.00" stroke="#000" stroke-width="1" shape-rendering="crispEdges"/>
<line x1="254.50" y1="209.00" x2="254.50" y2="220.00" stroke="#000" stroke-width="1" shape-rendering="crispEdges"/>
<line x1="254.50" y1="837.00" x2="254.50" y2="826.00" stroke="#000" stroke-width="1" shape-rendering="crispEdges"/>
<line x1="335.50" y1="209.00" x2="335.50" y2="220.00" stroke="#000" stroke-width="1" shape-rendering="crispEdges"/>
<line x1="335.50" y1="837.00" x2="335.50" y2="826.00" stroke="#000" stroke-width="1" shape-rendering="crispEdges"/>
<line x1="416.50" y1="209.00" x2="416.50" y2="220.00" stroke="#000" stroke-width="1" shape-rendering="crispEdges"/>
<line x1="416.50" y1="837.00" x2="416.50" y2="826.00" stroke="#000" stroke-width="1" shape-rendering="crispEdges"/>
<line x1="497.50" y1="209.00" x2="497.50" y2="230.00" stroke="#000" stroke-width="1" shape-rendering="crispEdges"/>
<line x1="497.50" y1="837.00" x2="497.50" y2="816.00" stroke="#000" stroke-width="1" shape-rendering="crispEdges"/>
<line x1="578.50" y1="209.00" x2="578.50" y2="220.00" stroke="#000" stroke-width="1" shape-rendering="crispEdges"/>
<line x1="578.50" y1="837.00" x2="578.50" y2="826.00" stroke="#000" stroke-width="1" shape-rendering="crispEdges"/>
<line x1="659.50" y1="209.00" x2="659.50" y2="220.00" stroke="#000" stroke-width="1" shape-rendering="crispEdges"/>
<line x1="659.50" y1="837.00" x2="659.50" y2="826.00" stroke="#000" stroke-width="1" shape-rendering="crispEdges"/>
<line x1="740.50" y1="209.00" x2="740.50" y2="220.00" stroke="#000" stroke-width="1" shape-rendering="crispEdges"/>
<line x1="740.50" y1="837.00" x2="740.50" y2="826.00" stroke="#000" stroke-width="1" shape-rendering="crispEdges"/>
<line x1="821.50" y1="209.00" x2="821.50" y2="220.00" stroke="#000" stroke-width="1" shape-rendering="crispEdges"/>
<line x1="821.50" y1="837.00" x2="821.50" y2="826.00" stroke="#000" stroke-width="1" shape-rendering="crispEdges"/>
<line x1="93.00" y1="272.50" x2="104.00" y2="272.50" stroke="#000" stroke-width="1" shape-rendering="crispEdges"/>
<line x1="837.00" y1="272.50" x2="826.00" y2="272.50" stroke="#000" stroke-width="1" shape-rendering="crispEdges"/>
<line x1="93.00" y1="334.50" x2="104.00" y2="334.50" stroke="#000" stroke-width="1" shape-rendering="crispEdges"/>
<line x1="837.00" y1="334.50" x2="826.00" y2="334.50" stroke="#000" stroke-width="1" shape-rendering="crispEdges"/>
<line x1="93.00" y1="397.50" x2="104.00" y2="397.50" stroke="#000" stroke-width="1" shape-rendering="crispEdges"/>
<line x1="837.00" y1="397.50" x2="826.00" y2="397.50" stroke="#000" stroke-width="1" shape-rendering="crispEdges"/>
<line x1="93.00" y1="460.50" x2="104.00" y2="460.50" stroke="#000" stroke-width="1" shape-rendering="crispEdges"/>
<line x1="837.00" y1="460.50" x2="826.00" y2="460.50" stroke="#000" stroke-width="1" shape-rendering="crispEdges"/>
<line x1="93.00" y1="523.50" x2="119.00" y2="523.50" stroke="#000" stroke-width="1" shape-rendering="crispEdges"/>
<line x1="837.00" y1="523.50" x2="811.00" y2="523.50" stroke="#000" stroke-width="1" shape-rendering="crispEdges"/>
<line x1="93.00" y1="585.50" x2="104.00" y2="585.50" stroke="#000" stroke-width="1" shape-rendering="crispEdges"/>
<line x1="837.00" y1="585.50" x2="826.00" y2="585.50" stroke="#000" stroke-width="1" shape-rendering="crispEdges"/>
<line x1="93.00" y1="648.50" x2="104.00" y2="648.50" stroke="#000" stroke-width="1" shape-rendering="crispEdges"/>
<line x1="837.00" y1="648.50" x2="826.00" y2="648.50" stroke="#000" stroke-width="1" shape-rendering="crispEdges"/>
<line x1="93.00" y1="711.50" x2="104.00" y2="711.50" stroke="#000" stroke-width="1" shape-rendering="crispEdges"/>
<line x1="837.00" y1="711.50" x2="826.00" y2="711.50" stroke="#000" stroke-width="1" shape-rendering="crispEdges"/>
<line x1="93.00" y1="774.50" x2="104.00" y2="774.50" stroke="#000" stroke-width="1" shape-rendering="crispEdges"/>
<line x1="837.00" y1="774.50" x2="826.00" y2="774.50" stroke="#000" stroke-width="1" shape-rendering="crispEdges"/>
<rect x="93" y="209" width="744" height="628" fill="none" stroke="#000" stroke-width="2" stroke-linejoin="round"/>
<rect x="857" y="806" width="62" height="31" fill="#0000be"/>
<rect x="857" y="774" width="62" height="32" fill="#001ee6"/>
<rect x="857" y="743" width="62" height="31" fill="#0060ff"/>
<rect x="857" y="711" width="62" height="32" fill="#007dff"/>
<rect x="857" y="680" width="62" height="31" fill="#009bff"/>
<rect x="857" y="649" width="62" height="31" fill="#00b9ff"/>
<rect x="857" y="617" width="62" height="32" fill="#00dcff"/>
<rect x="857" y="586" width="62" height="31" fill="#00ffff"/>
<rect x="857" y="554" width="62" height="32" fill="#00f5d2"/>
<rect x="857" y="523" width="62" height="31" fill="#00f096"/>
<rect x="857" y="492" width="62" height="31" fill="#00eb00"/>
<rect x="857" y="460" width="62" height="32" fill="#beff5a"/>
<rect x="857" y="429" width="62" height="31" fill="#ecff5e"/>
<rect x="857" y="397" width="62" height="32" fill="#ffbe00"/>
<rect x="857" y="366" width="62" height="31" fill="#ff9620"/>
<rect x="857" y="335" width="62" height="31" fill="#ff7840"/>
<rect x="857" y="303" width="62" height="32" fill="#ff3c0a"/>
<rect x="857" y="272" width="62" height="31" fill="#e60000"/>
<rect x="857" y="241" width="62" height="31" fill="#be0000"/>
<rect x="857" y="209" width="62" height="32" fill="#960000"/>
<rect x="857" y="805" width="62" height="2" fill="#fff"/>
<rect x="857" y="773" width="62" height="2" fill="#fff"/>
<rect x="857" y="742" width="62" height="2" fill="#fff"/>
<rect x="857" y="710" width="62" height="2" fill="#fff"/>
<rect x="857" y="679" width="62" height="2" fill="#fff"/>
<rect x="857" y="648" width="62" height="2" fill="#fff"/>
<rect x="857" y="616" width="62" height="2" fill="#fff"/>
<rect x="857" y="585" width="62" height="2" fill="#fff"/>
<rect x="857" y="553" width="62" height="2" fill="#fff"/>
<rect x="857" y="522" width="62" height="2" fill="#fff"/>
<rect x="857" y="491" width="62" height="2" fill="#fff"/>
<rect x="857" y="459" width="62" height="2" fill="#fff"/>
<rect x="857" y="428" width="62" height="2" fill="#fff"/>
<rect x="857" y="396" width="62" height="2" fill="#fff"/>
<rect x="857" y="365" width="62" height="2" fill="#fff"/>
<rect x="857" y="334" width="62" height="2" fill="#fff"/>
<rect x="857" y="302" width="62" height="2" fill="#fff"/>
<rect x="857" y="271" width="62" height="2" fill="#fff"/>
<rect x="857" y="240" width="62" height="2" fill="#fff"/>
<rect x="857" y="209" width="62" height="628" fill="none" stroke="#000" stroke-width="2" stroke-linejoin="round"/>
<path d="M249.5 115.5 L246.5 112.5 L240.5 112.5 L237.5 115.5 L237.5 119.5 L240.5 121.5 L246.5 122.5 L249.5 124.5 L249.5 128.5 L246.5 131.5 L240.5 131.5 L237.5 128.5 M256.5 121.5 L258.5 120.5 L263.5 120.5 L265.5 122.5 L265.5 130.5 L267.5 131.5 M265.5 124.5 L258.5 125.5 L255.5 127.5 L255.5 129.5 L258.5 131.5 L261.5 131.5 L265.5 128.5 M279.5 112.5 L279.5 130.5 L280.5 131.5 L282.5 131.5 M297.5 120.5 L297.5 131.5 M310.5 120.5 L310.5 131.5 M310.5 123.5 L312.5 120.5 L317.5 120.5 L320.5 123.5 L320.5 131.5 M333.5 120.5 L333.5 131.5 M351.5 113.5 L351.5 130.5 L353.5 131.5 L356.5 131.5 M348.5 120.5 L356.5 120.5 M364.5 120.5 L369.5 130.5 M375.5 120.5 L369.5 130.5 L367.5 136.5 M403.5 120.5 L407.5 120.5 L410.5 123.5 L410.5 128.5 L407.5 131.5 L403.5 131.5 L400.5 128.5 L400.5 123.5 L403.5 120.5 M418.5 120.5 L418.5 128.5 L421.5 131.5 L425.5 131.5 L428.5 128.5 M428.5 120.5 L428.5 131.5 M442.5 113.5 L442.5 130.5 L443.5 131.5 L446.5 131.5 M439.5 120.5 L446.5 120.5 M475.5 120.5 L479.5 120.5 L482.5 123.5 L482.5 128.5 L479.5 131.5 L475.5 131.5 L472.5 128.5 L472.5 123.5 L475.5 120.5 M500.5 113.5 L498.5 112.5 L495.5 112.5 L494.5 114.5 L494.5 131.5 M491.5 120.5 L498.5 120.5 M526.5 120.5 L526.5 136.5 M526.5 123.5 L529.5 120.5 L534.5 120.5 L536.5 123.5 L536.5 128.5 L534.5 131.5 L529.5 131.5 L526.5 128.5 M547.5 120.5 L552.5 120.5 L554.5 123.5 L554.5 128.5 L552.5 131.5 L547.5 131.5 L544.5 128.5 L544.5 123.5 L547.5 120.5 M568.5 120.5 L568.5 131.5 M580.5 120.5 L580.5 131.5 M580.5 123.5 L583.5 120.5 L588.5 120.5 L591.5 123.5 L591.5 131.5 M604.5 113.5 L604.5 130.5 L606.5 131.5 L608.5 131.5 M601.5 120.5 L608.5 120.5 M635.5 131.5 L639.5 112.5 L642.5 112.5 L646.5 131.5 M636.5 124.5 L644.5 124.5 M653.5 120.5 L653.5 131.5 M653.5 123.5 L656.5 120.5 L660.5 120.5 L663.5 123.5 L663.5 131.5 M674.5 120.5 L678.5 120.5 L681.5 123.5 L681.5 128.5 L678.5 131.5 L674.5 131.5 L671.5 128.5 L671.5 123.5 L674.5 120.5 M707.5 131.5 L707.5 112.5 L718.5 131.5 L718.5 112.5 M725.5 120.5 L725.5 128.5 L728.5 131.5 L732.5 131.5 L735.5 128.5 M735.5 120.5 L735.5 131.5 M743.5 125.5 L753.5 125.5 L753.5 123.5 L750.5 120.5 L746.5 120.5 L743.5 123.5 L743.5 128.5 L746.5 131.5 L750.5 131.5 L753.5 129.5 M761.5 120.5 L766.5 131.5 L772.5 120.5 M782.5 120.5 L786.5 120.5 L789.5 123.5 L789.5 128.5 L786.5 131.5 L782.5 131.5 L779.5 128.5 L779.5 123.5 L782.5 120.5" fill="none" stroke="#000" stroke-width="1.0" stroke-linecap="square" stroke-linejoin="miter"/><rect x="296.5" y="116" width="2" height="2" fill="#000"/><rect x="332.5" y="116" width="2" height="2" fill="#000"/><rect x="567.5" y="116" width="2" height="2" fill="#000"/>
<path d="M114.5 157.5 L117.5 153.5 L123.5 153.5 L126.5 156.5 L126.5 160.5 L123.5 162.5 L119.5 162.5 M123.5 162.5 L126.5 165.5 L126.5 168.5 L123.5 171.5 L117.5 171.5 L114.5 167.5 M138.5 153.5 L134.5 157.5 L132.5 160.5 L132.5 167.5 L134.5 171.5 L141.5 171.5 L144.5 168.5 L144.5 164.5 L141.5 161.5 L135.5 161.5 L132.5 163.5 M168.5 153.5 L180.5 153.5 L171.5 171.5 M189.5 153.5 L194.5 153.5 L198.5 157.5 L198.5 167.5 L194.5 171.5 L189.5 171.5 L186.5 167.5 L186.5 157.5 L189.5 153.5 M186.5 171.5 L198.5 153.5 M222.5 171.5 L222.5 153.5 L234.5 171.5 L234.5 153.5" fill="none" stroke="#000" stroke-width="1.0" stroke-linecap="square" stroke-linejoin="miter"/><rect x="155" y="170" width="3" height="3" fill="#000"/>
<path d="M97.5 185.5 L102.5 181.5 L102.5 199.5 M114.5 185.5 L117.5 181.5 L123.5 181.5 L126.5 184.5 L126.5 189.5 L114.5 196.5 L114.5 199.5 L126.5 199.5 M132.5 185.5 L135.5 181.5 L141.5 181.5 L144.5 184.5 L144.5 188.5 L141.5 190.5 L137.5 190.5 M141.5 190.5 L144.5 193.5 L144.5 196.5 L141.5 199.5 L135.5 199.5 L132.5 196.5 M168.5 185.5 L171.5 181.5 L177.5 181.5 L180.5 184.5 L180.5 189.5 L168.5 196.5 L168.5 199.5 L180.5 199.5 M186.5 185.5 L189.5 181.5 L195.5 181.5 L198.5 184.5 L198.5 188.5 L195.5 190.5 L191.5 190.5 M195.5 190.5 L198.5 193.5 L198.5 196.5 L195.5 199.5 L189.5 199.5 L186.5 196.5 M222.5 181.5 L225.5 199.5 L228.5 187.5 L231.5 199.5 L234.5 181.5" fill="none" stroke="#000" stroke-width="1.0" stroke-linecap="square" stroke-linejoin="miter"/><rect x="155" y="198" width="3" height="3" fill="#000"/>
<path d="M714.5 157.5 L717.5 153.5 L723.5 153.5 L726.5 156.5 L726.5 160.5 L723.5 162.5 L719.5 162.5 M723.5 162.5 L726.5 165.5 L726.5 168.5 L723.5 171.5 L717.5 171.5 L714.5 167.5 M732.5 153.5 L744.5 153.5 L735.5 171.5 M769.5 157.5 L774.5 153.5 L774.5 171.5 M787.5 157.5 L792.5 153.5 L792.5 171.5 M822.5 171.5 L822.5 153.5 L834.5 171.5 L834.5 153.5" fill="none" stroke="#000" stroke-width="1.0" stroke-linecap="square" stroke-linejoin="miter"/><rect x="755" y="170" width="3" height="3" fill="#000"/>
<path d="M697.5 185.5 L702.5 181.5 L702.5 199.5 M714.5 185.5 L717.5 181.5 L723.5 181.5 L726.5 184.5 L726.5 189.5 L714.5 196.5 L714.5 199.5 L726.5 199.5 M732.5 185.5 L735.5 181.5 L741.5 181.5 L744.5 184.5 L744.5 189.5 L732.5 196.5 L732.5 199.5 L744.5 199.5 M768.5 185.5 L771.5 181.5 L777.5 181.5 L780.5 184.5 L780.5 188.5 L777.5 190.5 L773.5 190.5 M777.5 190.5 L780.5 193.5 L780.5 196.5 L777.5 199.5 L771.5 199.5 L768.5 196.5 M786.5 185.5 L789.5 181.5 L795.5 181.5 L798.5 184.5 L798.5 188.5 L795.5 190.5 L791.5 190.5 M795.5 190.5 L798.5 193.5 L798.5 196.5 L795.5 199.5 L789.5 199.5 L786.5 196.5 M822.5 181.5 L825.5 199.5 L828.5 187.5 L831.5 199.5 L834.5 181.5" fill="none" stroke="#000" stroke-width="1.0" stroke-linecap="square" stroke-linejoin="miter"/><rect x="755" y="198" width="3" height="3" fill="#000"/>
<path d="M4.5 199.5 L9.5 199.5 L12.5 203.5 L12.5 213.5 L9.5 217.5 L4.5 217.5 L1.5 213.5 L1.5 203.5 L4.5 199.5 M1.5 217.5 L12.5 199.5 M19.5 207.5 L19.5 217.5 M19.5 208.5 L21.5 207.5 L23.5 207.5 L24.5 208.5 L24.5 217.5 M24.5 208.5 L26.5 207.5 L28.5 207.5 L29.5 208.5 L29.5 217.5" fill="none" stroke="#000" stroke-width="1.0" stroke-linecap="square" stroke-linejoin="miter"/>
<path d="M20.5 517.5 L25.5 513.5 L25.5 531.5 M40.5 513.5 L45.5 513.5 L48.5 517.5 L48.5 527.5 L45.5 531.5 L40.5 531.5 L37.5 527.5 L37.5 517.5 L40.5 513.5 M37.5 531.5 L49.5 513.5 M58.5 513.5 L63.5 513.5 L66.5 517.5 L66.5 527.5 L63.5 531.5 L58.5 531.5 L55.5 527.5 L55.5 517.5 L58.5 513.5 M55.5 531.5 L66.5 513.5" fill="none" stroke="#000" stroke-width="1.0" stroke-linecap="square" stroke-linejoin="miter"/>
<path d="M20.5 830.5 L22.5 827.5 L28.5 827.5 L31.5 830.5 L31.5 835.5 L20.5 842.5 L20.5 845.5 L31.5 845.5 M40.5 827.5 L45.5 827.5 L48.5 830.5 L48.5 841.5 L45.5 845.5 L40.5 845.5 L37.5 841.5 L37.5 830.5 L40.5 827.5 M37.5 845.5 L49.5 826.5 M58.5 827.5 L63.5 827.5 L66.5 830.5 L66.5 841.5 L63.5 845.5 L58.5 845.5 L55.5 841.5 L55.5 830.5 L58.5 827.5 M55.5 845.5 L66.5 826.5" fill="none" stroke="#000" stroke-width="1.0" stroke-linecap="square" stroke-linejoin="miter"/>
<path d="M101.5 849.5 L108.5 849.5 L113.5 854.5 L113.5 869.5 L108.5 874.5 L101.5 874.5 L96.5 869.5 L96.5 854.5 L101.5 849.5 M96.5 874.5 L113.5 848.5 M148.5 849.5 L148.5 874.5 M159.5 858.5 L148.5 863.5 M150.5 862.5 L162.5 874.5 M173.5 859.5 L173.5 874.5 M173.5 861.5 L175.5 859.5 L179.5 859.5 L181.5 861.5 L181.5 874.5 M181.5 861.5 L183.5 859.5 L187.5 859.5 L189.5 861.5 L189.5 874.5" fill="none" stroke="#000" stroke-width="1.0" stroke-linecap="square" stroke-linejoin="miter"/>
<path d="M505.5 849.5 L489.5 849.5 L489.5 862.5 L492.5 858.5 L500.5 858.5 L505.5 863.5 L505.5 869.5 L500.5 874.5 L489.5 874.5 M519.5 849.5 L526.5 849.5 L531.5 854.5 L531.5 869.5 L526.5 874.5 L519.5 874.5 L514.5 869.5 L514.5 854.5 L519.5 849.5 M514.5 874.5 L531.5 848.5" fill="none" stroke="#000" stroke-width="1.0" stroke-linecap="square" stroke-linejoin="miter"/>
<path d="M272.5 882.5 L277.5 878.5 L277.5 895.5 M289.5 881.5 L292.5 878.5 L298.5 878.5 L301.5 881.5 L301.5 885.5 L289.5 893.5 L289.5 895.5 L301.5 895.5 M328.5 878.5 L333.5 878.5 L336.5 881.5 L336.5 892.5 L333.5 895.5 L328.5 895.5 L325.5 892.5 L325.5 881.5 L328.5 878.5 M325.5 896.5 L336.5 877.5 M346.5 878.5 L351.5 878.5 L354.5 881.5 L354.5 892.5 L351.5 895.5 L346.5 895.5 L343.5 892.5 L343.5 881.5 L346.5 878.5 M343.5 896.5 L354.5 877.5 M382.5 878.5 L387.5 878.5 L390.5 881.5 L390.5 892.5 L387.5 895.5 L382.5 895.5 L378.5 892.5 L378.5 881.5 L382.5 878.5 M378.5 896.5 L390.5 877.5 M400.5 878.5 L405.5 878.5 L408.5 881.5 L408.5 892.5 L405.5 895.5 L400.5 895.5 L396.5 892.5 L396.5 881.5 L400.5 878.5 M396.5 896.5 L408.5 877.5 M414.5 878.5 L426.5 878.5 L414.5 895.5 L426.5 895.5 M495.5 878.5 L486.5 890.5 L498.5 890.5 M495.5 878.5 L495.5 895.5 M522.5 895.5 L526.5 878.5 L529.5 878.5 L533.5 895.5 M523.5 889.5 L532.5 889.5 M540.5 885.5 L540.5 893.5 L542.5 895.5 L547.5 895.5 L550.5 893.5 M550.5 885.5 L550.5 895.5 M568.5 885.5 L568.5 899.5 L566.5 901.5 L562.5 901.5 L560.5 900.5 M568.5 888.5 L565.5 885.5 L560.5 885.5 L557.5 888.5 L557.5 893.5 L560.5 895.5 L565.5 895.5 L568.5 893.5 M593.5 881.5 L596.5 878.5 L602.5 878.5 L605.5 881.5 L605.5 885.5 L593.5 893.5 L593.5 895.5 L605.5 895.5 M614.5 878.5 L620.5 878.5 L623.5 881.5 L623.5 892.5 L620.5 895.5 L614.5 895.5 L611.5 892.5 L611.5 881.5 L614.5 878.5 M611.5 896.5 L623.5 877.5 M632.5 878.5 L637.5 878.5 L641.5 881.5 L641.5 892.5 L637.5 895.5 L632.5 895.5 L629.5 892.5 L629.5 881.5 L632.5 878.5 M629.5 896.5 L641.5 877.5 M653.5 877.5 L649.5 882.5 L647.5 885.5 L647.5 892.5 L650.5 895.5 L656.5 895.5 L659.5 892.5 L659.5 888.5 L656.5 885.5 L650.5 885.5 L647.5 888.5" fill="none" stroke="#000" stroke-width="1.0" stroke-linecap="square" stroke-linejoin="miter"/><rect x="310" y="893" width="3" height="2" fill="#000"/><rect x="310" y="888" width="3" height="2" fill="#000"/><rect x="364" y="893" width="3" height="2" fill="#000"/><rect x="364" y="888" width="3" height="2" fill="#000"/>
<path d="M928.5 799.5 L931.5 795.5 L937.5 795.5 L940.5 798.5 L940.5 802.5 L937.5 805.5 L933.5 805.5 M937.5 805.5 L940.5 808.5 L940.5 811.5 L937.5 814.5 L931.5 814.5 L928.5 811.5 M947.5 799.5 L950.5 795.5 L956.5 795.5 L959.5 798.5 L959.5 802.5 L956.5 805.5 L953.5 805.5 M956.5 805.5 L959.5 808.5 L959.5 811.5 L956.5 814.5 L951.5 814.5 L947.5 811.5 M989.5 795.5 L994.5 795.5 L998.5 799.5 L998.5 810.5 L994.5 814.5 L989.5 814.5 L986.5 810.5 L986.5 799.5 L989.5 795.5 M986.5 815.5 L998.5 795.5 M1011.5 795.5 L1007.5 799.5 L1005.5 803.5 L1005.5 810.5 L1008.5 814.5 L1014.5 814.5 L1017.5 811.5 L1017.5 807.5 L1014.5 803.5 L1008.5 803.5 L1005.5 806.5" fill="none" stroke="#000" stroke-width="1.0" stroke-linecap="square" stroke-linejoin="miter"/><rect x="972" y="813" width="3" height="3" fill="#000"/>
<path d="M928.5 767.5 L931.5 763.5 L937.5 763.5 L940.5 766.5 L940.5 770.5 L937.5 773.5 L933.5 773.5 M937.5 773.5 L940.5 776.5 L940.5 779.5 L937.5 782.5 L931.5 782.5 L928.5 779.5 M947.5 767.5 L950.5 763.5 L956.5 763.5 L959.5 766.5 L959.5 770.5 L956.5 773.5 L953.5 773.5 M956.5 773.5 L959.5 776.5 L959.5 779.5 L956.5 782.5 L951.5 782.5 L947.5 779.5 M987.5 767.5 L992.5 763.5 L992.5 782.5 M1005.5 766.5 L1008.5 763.5 L1014.5 763.5 L1017.5 766.5 L1017.5 771.5 L1005.5 779.5 L1005.5 782.5 L1017.5 782.5" fill="none" stroke="#000" stroke-width="1.0" stroke-linecap="square" stroke-linejoin="miter"/><rect x="972" y="781" width="3" height="3" fill="#000"/>
<path d="M928.5 736.5 L931.5 732.5 L937.5 732.5 L940.5 735.5 L940.5 739.5 L937.5 742.5 L933.5 742.5 M937.5 742.5 L940.5 745.5 L940.5 748.5 L937.5 751.5 L931.5 751.5 L928.5 748.5 M947.5 736.5 L950.5 732.5 L956.5 732.5 L959.5 735.5 L959.5 739.5 L956.5 742.5 L953.5 742.5 M956.5 742.5 L959.5 745.5 L959.5 748.5 L956.5 751.5 L951.5 751.5 L947.5 748.5 M987.5 736.5 L992.5 732.5 L992.5 751.5 M1008.5 732.5 L1014.5 732.5 L1017.5 735.5 L1017.5 738.5 L1014.5 741.5 L1008.5 741.5 L1005.5 738.5 L1005.5 735.5 L1008.5 732.5 M1008.5 741.5 L1005.5 745.5 L1005.5 748.5 L1008.5 751.5 L1014.5 751.5 L1017.5 748.5 L1017.5 745.5 L1014.5 741.5" fill="none" stroke="#000" stroke-width="1.0" stroke-linecap="square" stroke-linejoin="miter"/><rect x="972" y="750" width="3" height="3" fill="#000"/>
<path d="M928.5 704.5 L931.5 700.5 L937.5 700.5 L940.5 703.5 L940.5 707.5 L937.5 710.5 L933.5 710.5 M937.5 710.5 L940.5 713.5 L940.5 716.5 L937.5 719.5 L931.5 719.5 L928.5 716.5 M947.5 704.5 L950.5 700.5 L956.5 700.5 L959.5 703.5 L959.5 707.5 L956.5 710.5 L953.5 710.5 M956.5 710.5 L959.5 713.5 L959.5 716.5 L956.5 719.5 L951.5 719.5 L947.5 716.5 M986.5 703.5 L989.5 700.5 L995.5 700.5 L998.5 703.5 L998.5 708.5 L986.5 716.5 L986.5 719.5 L998.5 719.5 M1014.5 700.5 L1005.5 714.5 L1017.5 714.5 M1014.5 700.5 L1014.5 719.5" fill="none" stroke="#000" stroke-width="1.0" stroke-linecap="square" stroke-linejoin="miter"/><rect x="972" y="718" width="3" height="3" fill="#000"/>
<path d="M928.5 673.5 L931.5 669.5 L937.5 669.5 L940.5 672.5 L940.5 676.5 L937.5 679.5 L933.5 679.5 M937.5 679.5 L940.5 682.5 L940.5 685.5 L937.5 688.5 L931.5 688.5 L928.5 685.5 M947.5 673.5 L950.5 669.5 L956.5 669.5 L959.5 672.5 L959.5 676.5 L956.5 679.5 L953.5 679.5 M956.5 679.5 L959.5 682.5 L959.5 685.5 L956.5 688.5 L951.5 688.5 L947.5 685.5 M986.5 673.5 L989.5 669.5 L995.5 669.5 L998.5 672.5 L998.5 676.5 L995.5 679.5 L991.5 679.5 M995.5 679.5 L998.5 682.5 L998.5 685.5 L995.5 688.5 L989.5 688.5 L986.5 685.5 M1008.5 669.5 L1014.5 669.5 L1017.5 673.5 L1017.5 684.5 L1014.5 688.5 L1008.5 688.5 L1005.5 684.5 L1005.5 673.5 L1008.5 669.5 M1005.5 689.5 L1017.5 669.5" fill="none" stroke="#000" stroke-width="1.0" stroke-linecap="square" stroke-linejoin="miter"/><rect x="972" y="687" width="3" height="3" fill="#000"/>
<path d="M928.5 642.5 L931.5 638.5 L937.5 638.5 L940.5 641.5 L940.5 645.5 L937.5 648.5 L933.5 648.5 M937.5 648.5 L940.5 651.5 L940.5 654.5 L937.5 657.5 L931.5 657.5 L928.5 654.5 M947.5 642.5 L950.5 638.5 L956.5 638.5 L959.5 641.5 L959.5 645.5 L956.5 648.5 L953.5 648.5 M956.5 648.5 L959.5 651.5 L959.5 654.5 L956.5 657.5 L951.5 657.5 L947.5 654.5 M986.5 642.5 L989.5 638.5 L995.5 638.5 L998.5 641.5 L998.5 645.5 L995.5 648.5 L991.5 648.5 M995.5 648.5 L998.5 651.5 L998.5 654.5 L995.5 657.5 L989.5 657.5 L986.5 654.5 M1011.5 638.5 L1007.5 642.5 L1005.5 646.5 L1005.5 653.5 L1008.5 657.5 L1014.5 657.5 L1017.5 654.5 L1017.5 650.5 L1014.5 646.5 L1008.5 646.5 L1005.5 649.5" fill="none" stroke="#000" stroke-width="1.0" stroke-linecap="square" stroke-linejoin="miter"/><rect x="972" y="656" width="3" height="3" fill="#000"/>
<path d="M928.5 610.5 L931.5 606.5 L937.5 606.5 L940.5 609.5 L940.5 613.5 L937.5 616.5 L933.5 616.5 M937.5 616.5 L940.5 619.5 L940.5 622.5 L937.5 625.5 L931.5 625.5 L928.5 622.5 M947.5 610.5 L950.5 606.5 L956.5 606.5 L959.5 609.5 L959.5 613.5 L956.5 616.5 L953.5 616.5 M956.5 616.5 L959.5 619.5 L959.5 622.5 L956.5 625.5 L951.5 625.5 L947.5 622.5 M995.5 606.5 L986.5 620.5 L998.5 620.5 M995.5 606.5 L995.5 625.5 M1005.5 609.5 L1008.5 606.5 L1014.5 606.5 L1017.5 609.5 L1017.5 614.5 L1005.5 622.5 L1005.5 625.5 L1017.5 625.5" fill="none" stroke="#000" stroke-width="1.0" stroke-linecap="square" stroke-linejoin="miter"/><rect x="972" y="624" width="3" height="3" fill="#000"/>
<path d="M928.5 579.5 L931.5 575.5 L937.5 575.5 L940.5 578.5 L940.5 582.5 L937.5 585.5 L933.5 585.5 M937.5 585.5 L940.5 588.5 L940.5 591.5 L937.5 594.5 L931.5 594.5 L928.5 591.5 M947.5 579.5 L950.5 575.5 L956.5 575.5 L959.5 578.5 L959.5 582.5 L956.5 585.5 L953.5 585.5 M956.5 585.5 L959.5 588.5 L959.5 591.5 L956.5 594.5 L951.5 594.5 L947.5 591.5 M995.5 575.5 L986.5 589.5 L998.5 589.5 M995.5 575.5 L995.5 594.5 M1008.5 575.5 L1014.5 575.5 L1017.5 578.5 L1017.5 581.5 L1014.5 584.5 L1008.5 584.5 L1005.5 581.5 L1005.5 578.5 L1008.5 575.5 M1008.5 584.5 L1005.5 588.5 L1005.5 591.5 L1008.5 594.5 L1014.5 594.5 L1017.5 591.5 L1017.5 588.5 L1014.5 584.5" fill="none" stroke="#000" stroke-width="1.0" stroke-linecap="square" stroke-linejoin="miter"/><rect x="972" y="593" width="3" height="3" fill="#000"/>
<path d="M928.5 547.5 L931.5 543.5 L937.5 543.5 L940.5 546.5 L940.5 550.5 L937.5 553.5 L933.5 553.5 M937.5 553.5 L940.5 556.5 L940.5 559.5 L937.5 562.5 L931.5 562.5 L928.5 559.5 M947.5 547.5 L950.5 543.5 L956.5 543.5 L959.5 546.5 L959.5 550.5 L956.5 553.5 L953.5 553.5 M956.5 553.5 L959.5 556.5 L959.5 559.5 L956.5 562.5 L951.5 562.5 L947.5 559.5 M998.5 543.5 L986.5 543.5 L986.5 553.5 L988.5 550.5 L994.5 550.5 L998.5 554.5 L998.5 559.5 L994.5 562.5 L986.5 562.5 M1014.5 543.5 L1005.5 557.5 L1017.5 557.5 M1014.5 543.5 L1014.5 562.5" fill="none" stroke="#000" stroke-width="1.0" stroke-linecap="square" stroke-linejoin="miter"/><rect x="972" y="561" width="3" height="3" fill="#000"/>
<path d="M928.5 516.5 L931.5 512.5 L937.5 512.5 L940.5 515.5 L940.5 519.5 L937.5 522.5 L933.5 522.5 M937.5 522.5 L940.5 525.5 L940.5 528.5 L937.5 531.5 L931.5 531.5 L928.5 528.5 M947.5 516.5 L950.5 512.5 L956.5 512.5 L959.5 515.5 L959.5 519.5 L956.5 522.5 L953.5 522.5 M956.5 522.5 L959.5 525.5 L959.5 528.5 L956.5 531.5 L951.5 531.5 L947.5 528.5 M992.5 512.5 L988.5 516.5 L986.5 520.5 L986.5 527.5 L989.5 531.5 L995.5 531.5 L998.5 528.5 L998.5 524.5 L995.5 520.5 L989.5 520.5 L986.5 523.5 M1008.5 512.5 L1014.5 512.5 L1017.5 516.5 L1017.5 527.5 L1014.5 531.5 L1008.5 531.5 L1005.5 527.5 L1005.5 516.5 L1008.5 512.5 M1005.5 532.5 L1017.5 512.5" fill="none" stroke="#000" stroke-width="1.0" stroke-linecap="square" stroke-linejoin="miter"/><rect x="972" y="530" width="3" height="3" fill="#000"/>
<path d="M928.5 485.5 L931.5 481.5 L937.5 481.5 L940.5 484.5 L940.5 488.5 L937.5 491.5 L933.5 491.5 M937.5 491.5 L940.5 494.5 L940.5 497.5 L937.5 500.5 L931.5 500.5 L928.5 497.5 M947.5 485.5 L950.5 481.5 L956.5 481.5 L959.5 484.5 L959.5 488.5 L956.5 491.5 L953.5 491.5 M956.5 491.5 L959.5 494.5 L959.5 497.5 L956.5 500.5 L951.5 500.5 L947.5 497.5 M992.5 481.5 L988.5 485.5 L986.5 489.5 L986.5 496.5 L989.5 500.5 L995.5 500.5 L998.5 497.5 L998.5 493.5 L995.5 489.5 L989.5 489.5 L986.5 492.5 M1011.5 481.5 L1007.5 485.5 L1005.5 489.5 L1005.5 496.5 L1008.5 500.5 L1014.5 500.5 L1017.5 497.5 L1017.5 493.5 L1014.5 489.5 L1008.5 489.5 L1005.5 492.5" fill="none" stroke="#000" stroke-width="1.0" stroke-linecap="square" stroke-linejoin="miter"/><rect x="972" y="499" width="3" height="3" fill="#000"/>
<path d="M928.5 453.5 L931.5 449.5 L937.5 449.5 L940.5 452.5 L940.5 456.5 L937.5 459.5 L933.5 459.5 M937.5 459.5 L940.5 462.5 L940.5 465.5 L937.5 468.5 L931.5 468.5 L928.5 465.5 M947.5 453.5 L950.5 449.5 L956.5 449.5 L959.5 452.5 L959.5 456.5 L956.5 459.5 L953.5 459.5 M956.5 459.5 L959.5 462.5 L959.5 465.5 L956.5 468.5 L951.5 468.5 L947.5 465.5 M986.5 449.5 L998.5 449.5 L989.5 468.5 M1005.5 452.5 L1008.5 449.5 L1014.5 449.5 L1017.5 452.5 L1017.5 457.5 L1005.5 465.5 L1005.5 468.5 L1017.5 468.5" fill="none" stroke="#000" stroke-width="1.0" stroke-linecap="square" stroke-linejoin="miter"/><rect x="972" y="467" width="3" height="3" fill="#000"/>
<path d="M928.5 422.5 L931.5 418.5 L937.5 418.5 L940.5 421.5 L940.5 425.5 L937.5 428.5 L933.5 428.5 M937.5 428.5 L940.5 431.5 L940.5 434.5 L937.5 437.5 L931.5 437.5 L928.5 434.5 M947.5 422.5 L950.5 418.5 L956.5 418.5 L959.5 421.5 L959.5 425.5 L956.5 428.5 L953.5 428.5 M956.5 428.5 L959.5 431.5 L959.5 434.5 L956.5 437.5 L951.5 437.5 L947.5 434.5 M986.5 418.5 L998.5 418.5 L989.5 437.5 M1008.5 418.5 L1014.5 418.5 L1017.5 421.5 L1017.5 424.5 L1014.5 427.5 L1008.5 427.5 L1005.5 424.5 L1005.5 421.5 L1008.5 418.5 M1008.5 427.5 L1005.5 431.5 L1005.5 434.5 L1008.5 437.5 L1014.5 437.5 L1017.5 434.5 L1017.5 431.5 L1014.5 427.5" fill="none" stroke="#000" stroke-width="1.0" stroke-linecap="square" stroke-linejoin="miter"/><rect x="972" y="436" width="3" height="3" fill="#000"/>
<path d="M928.5 390.5 L931.5 386.5 L937.5 386.5 L940.5 389.5 L940.5 393.5 L937.5 396.5 L933.5 396.5 M937.5 396.5 L940.5 399.5 L940.5 402.5 L937.5 405.5 L931.5 405.5 L928.5 402.5 M947.5 390.5 L950.5 386.5 L956.5 386.5 L959.5 389.5 L959.5 393.5 L956.5 396.5 L953.5 396.5 M956.5 396.5 L959.5 399.5 L959.5 402.5 L956.5 405.5 L951.5 405.5 L947.5 402.5 M989.5 386.5 L995.5 386.5 L998.5 389.5 L998.5 392.5 L995.5 395.5 L989.5 395.5 L986.5 392.5 L986.5 389.5 L989.5 386.5 M989.5 395.5 L986.5 399.5 L986.5 402.5 L989.5 405.5 L995.5 405.5 L998.5 402.5 L998.5 399.5 L995.5 395.5 M1014.5 386.5 L1005.5 400.5 L1017.5 400.5 M1014.5 386.5 L1014.5 405.5" fill="none" stroke="#000" stroke-width="1.0" stroke-linecap="square" stroke-linejoin="miter"/><rect x="972" y="404" width="3" height="3" fill="#000"/>
<path d="M928.5 359.5 L931.5 355.5 L937.5 355.5 L940.5 358.5 L940.5 362.5 L937.5 365.5 L933.5 365.5 M937.5 365.5 L940.5 368.5 L940.5 371.5 L937.5 374.5 L931.5 374.5 L928.5 371.5 M947.5 359.5 L950.5 355.5 L956.5 355.5 L959.5 358.5 L959.5 362.5 L956.5 365.5 L953.5 365.5 M956.5 365.5 L959.5 368.5 L959.5 371.5 L956.5 374.5 L951.5 374.5 L947.5 371.5 M998.5 361.5 L998.5 358.5 L995.5 355.5 L989.5 355.5 L986.5 358.5 L986.5 364.5 L988.5 367.5 L994.5 367.5 L998.5 364.5 L998.5 361.5 L997.5 366.5 L996.5 370.5 L992.5 375.5 M1008.5 355.5 L1014.5 355.5 L1017.5 359.5 L1017.5 370.5 L1014.5 374.5 L1008.5 374.5 L1005.5 370.5 L1005.5 359.5 L1008.5 355.5 M1005.5 375.5 L1017.5 355.5" fill="none" stroke="#000" stroke-width="1.0" stroke-linecap="square" stroke-linejoin="miter"/><rect x="972" y="373" width="3" height="3" fill="#000"/>
<path d="M928.5 328.5 L931.5 324.5 L937.5 324.5 L940.5 327.5 L940.5 331.5 L937.5 334.5 L933.5 334.5 M937.5 334.5 L940.5 337.5 L940.5 340.5 L937.5 343.5 L931.5 343.5 L928.5 340.5 M947.5 328.5 L950.5 324.5 L956.5 324.5 L959.5 327.5 L959.5 331.5 L956.5 334.5 L953.5 334.5 M956.5 334.5 L959.5 337.5 L959.5 340.5 L956.5 343.5 L951.5 343.5 L947.5 340.5 M998.5 330.5 L998.5 327.5 L995.5 324.5 L989.5 324.5 L986.5 327.5 L986.5 333.5 L988.5 336.5 L994.5 336.5 L998.5 333.5 L998.5 330.5 L997.5 335.5 L996.5 339.5 L992.5 344.5 M1011.5 324.5 L1007.5 328.5 L1005.5 332.5 L1005.5 339.5 L1008.5 343.5 L1014.5 343.5 L1017.5 340.5 L1017.5 336.5 L1014.5 332.5 L1008.5 332.5 L1005.5 335.5" fill="none" stroke="#000" stroke-width="1.0" stroke-linecap="square" stroke-linejoin="miter"/><rect x="972" y="342" width="3" height="3" fill="#000"/>
<path d="M928.5 296.5 L931.5 292.5 L937.5 292.5 L940.5 295.5 L940.5 299.5 L937.5 302.5 L933.5 302.5 M937.5 302.5 L940.5 305.5 L940.5 308.5 L937.5 311.5 L931.5 311.5 L928.5 308.5 M956.5 292.5 L947.5 306.5 L960.5 306.5 M956.5 292.5 L956.5 311.5 M989.5 292.5 L994.5 292.5 L998.5 296.5 L998.5 307.5 L994.5 311.5 L989.5 311.5 L986.5 307.5 L986.5 296.5 L989.5 292.5 M986.5 312.5 L998.5 292.5 M1005.5 295.5 L1008.5 292.5 L1014.5 292.5 L1017.5 295.5 L1017.5 300.5 L1005.5 308.5 L1005.5 311.5 L1017.5 311.5" fill="none" stroke="#000" stroke-width="1.0" stroke-linecap="square" stroke-linejoin="miter"/><rect x="972" y="310" width="3" height="3" fill="#000"/>
<path d="M928.5 265.5 L931.5 261.5 L937.5 261.5 L940.5 264.5 L940.5 268.5 L937.5 271.5 L933.5 271.5 M937.5 271.5 L940.5 274.5 L940.5 277.5 L937.5 280.5 L931.5 280.5 L928.5 277.5 M956.5 261.5 L947.5 275.5 L960.5 275.5 M956.5 261.5 L956.5 280.5 M989.5 261.5 L994.5 261.5 L998.5 265.5 L998.5 276.5 L994.5 280.5 L989.5 280.5 L986.5 276.5 L986.5 265.5 L989.5 261.5 M986.5 281.5 L998.5 261.5 M1008.5 261.5 L1014.5 261.5 L1017.5 264.5 L1017.5 267.5 L1014.5 270.5 L1008.5 270.5 L1005.5 267.5 L1005.5 264.5 L1008.5 261.5 M1008.5 270.5 L1005.5 274.5 L1005.5 277.5 L1008.5 280.5 L1014.5 280.5 L1017.5 277.5 L1017.5 274.5 L1014.5 270.5" fill="none" stroke="#000" stroke-width="1.0" stroke-linecap="square" stroke-linejoin="miter"/><rect x="972" y="279" width="3" height="3" fill="#000"/>
<path d="M928.5 234.5 L931.5 230.5 L937.5 230.5 L940.5 233.5 L940.5 237.5 L937.5 240.5 L933.5 240.5 M937.5 240.5 L940.5 243.5 L940.5 246.5 L937.5 249.5 L931.5 249.5 L928.5 246.5 M956.5 230.5 L947.5 244.5 L960.5 244.5 M956.5 230.5 L956.5 249.5 M987.5 234.5 L992.5 230.5 L992.5 249.5 M1014.5 230.5 L1005.5 244.5 L1017.5 244.5 M1014.5 230.5 L1014.5 249.5" fill="none" stroke="#000" stroke-width="1.0" stroke-linecap="square" stroke-linejoin="miter"/><rect x="972" y="248" width="3" height="3" fill="#000"/>
</svg></body></html>
